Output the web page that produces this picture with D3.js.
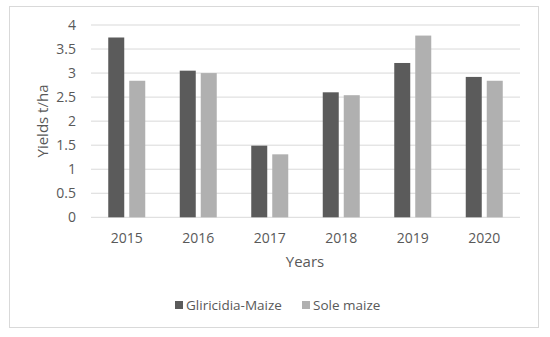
<!DOCTYPE html>
<html>
<head>
<meta charset="utf-8">
<script src="https://cdn.jsdelivr.net/npm/d3@7"></script>
<style>
  body { margin: 0; background: #fff; }
  text { font-family: "Open Sans", "Liberation Sans", sans-serif; fill: #595959; }
</style>
</head>
<body>
<svg></svg>
<script>
const years = ['2015', '2016', '2017', '2018', '2019', '2020'];
const series = ['Gliricidia-Maize', 'Sole maize'];
const gliricidia = [3.74, 3.05, 1.49, 2.60, 3.21, 2.92];
const soleMaize = [2.84, 3.00, 1.31, 2.54, 3.78, 2.84];
const yTicks = [0, 0.5, 1, 1.5, 2, 2.5, 3, 3.5, 4];
const colors = ['#5b5b5b', '#b0b0b0'];

const size = {w: 550, h: 337};
const svg = d3.select('svg').attr('width', size.w).attr('height', size.h);

// chart border
svg.append('rect')
    .attr('x', 9.5).attr('y', 6.5)
    .attr('width', 529).attr('height', 321)
    .attr('fill', '#fff').attr('stroke', '#d9d9d9');

const x = d3.scaleBand().domain(years).range([91, 520]);
const y = d3.scaleLinear().domain([0, 4]).range([217.3, 25]);

// gridlines
svg.append('g').selectAll('line')
    .data(yTicks)
    .join('line')
    .attr('x1', 91).attr('x2', 520)
    .attr('y1', d => y(d)).attr('y2', d => y(d))
    .attr('stroke', '#d9d9d9').attr('stroke-width', 1);

// y tick labels
svg.append('g').selectAll('text')
    .data(yTicks)
    .join('text')
    .attr('x', 76).attr('y', d => y(d))
    .attr('dy', '0.35em')
    .attr('text-anchor', 'end')
    .style('font-size', '14px')
    .text(d => d);

// bars
const barW = 16, gap = 5;
const rows = years.map((yr, i) => ({year: yr, vals: [gliricidia[i], soleMaize[i]]}));
const groups = svg.append('g').selectAll('g')
    .data(rows)
    .join('g')
    .attr('transform', d => `translate(${x(d.year) + x.bandwidth() / 2 - barW - gap / 2},0)`);
groups.selectAll('rect')
    .data(d => d.vals)
    .join('rect')
    .attr('x', (d, i) => i * (barW + gap))
    .attr('y', d => y(d))
    .attr('width', barW)
    .attr('height', d => y(0) - y(d))
    .attr('fill', (d, i) => colors[i]);

// x labels
svg.append('g').selectAll('text')
    .data(years)
    .join('text')
    .attr('x', d => x(d) + x.bandwidth() / 2)
    .attr('y', 238).attr('dy', '0.35em')
    .attr('text-anchor', 'middle')
    .style('font-size', '14px')
    .text(d => d);

// axis titles
svg.append('text')
    .attr('x', 305).attr('y', 262).attr('dy', '0.35em')
    .attr('text-anchor', 'middle')
    .style('font-size', '15px')
    .text('Years');
svg.append('text')
    .attr('transform', 'translate(43,121) rotate(-90)')
    .attr('dy', '0.35em')
    .attr('text-anchor', 'middle')
    .style('font-size', '15px')
    .text('Yields t/ha');

// legend
const legendX = [175, 302];
const legend = svg.append('g').selectAll('g')
    .data(series)
    .join('g')
    .attr('transform', (d, i) => `translate(${legendX[i]},305)`);
legend.append('rect')
    .attr('x', 0).attr('y', -4)
    .attr('width', 8).attr('height', 8)
    .attr('fill', (d, i) => colors[i]);
legend.append('text')
    .attr('x', 11).attr('dy', '0.35em')
    .style('font-size', '13.5px')
    .text(d => d);
</script>
</body>
</html>
